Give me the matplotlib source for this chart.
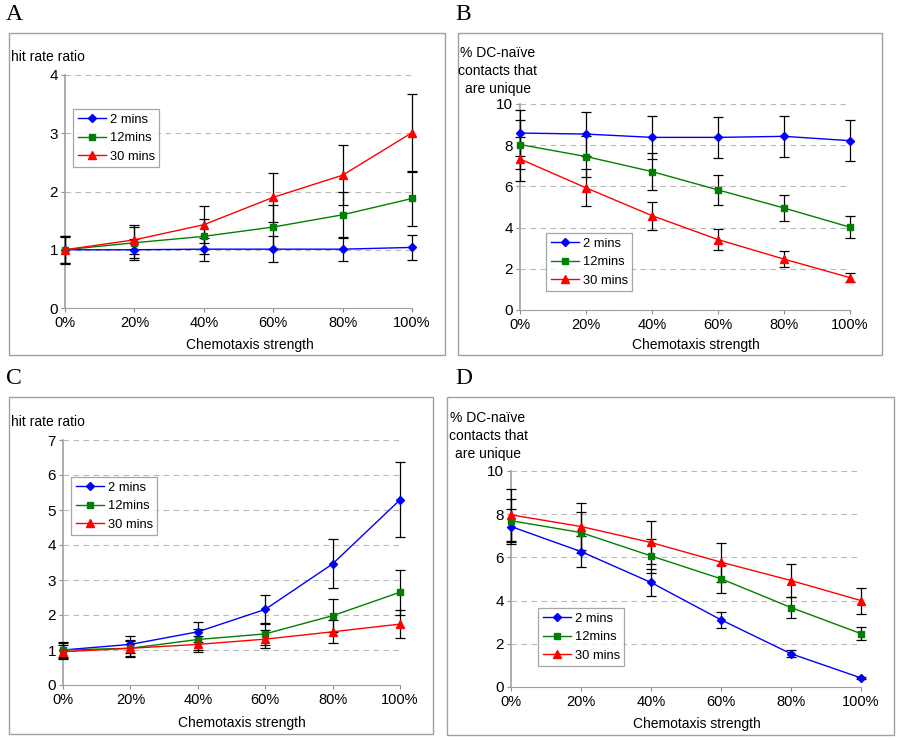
#!/usr/bin/env python3
# -*- coding: utf-8 -*-
import matplotlib
matplotlib.use("Agg")
import matplotlib.pyplot as plt
from matplotlib.lines import Line2D
from matplotlib.patches import Rectangle

plt.rcParams["font.family"] = ["Liberation Sans", "DejaVu Sans"]

W, H = 900, 740

strength = [0, 20, 40, 60, 80, 100]
series_names = ["2 mins", "12mins", "30 mins"]

# A: hit rate ratio
a_2 = [1.00, 1.00, 1.01, 1.01, 1.01, 1.04]
a_2_err = [0.22, 0.18, 0.20, 0.22, 0.21, 0.22]
a_12 = [1.00, 1.12, 1.23, 1.39, 1.60, 1.88]
a_12_err = [0.23, 0.27, 0.30, 0.37, 0.40, 0.47]
a_30 = [1.00, 1.17, 1.43, 1.90, 2.28, 3.01]
a_30_err = [0.24, 0.25, 0.32, 0.42, 0.51, 0.67]

# B: % DC-naive contacts that are unique
b_2 = [8.59, 8.54, 8.38, 8.38, 8.43, 8.22]
b_2_err = [1.10, 1.06, 1.05, 1.00, 1.00, 0.98]
b_12 = [8.03, 7.45, 6.72, 5.83, 4.95, 4.02]
b_12_err = [1.20, 1.00, 0.90, 0.72, 0.65, 0.53]
b_30 = [7.33, 5.93, 4.58, 3.42, 2.47, 1.57]
b_30_err = [1.06, 0.90, 0.68, 0.50, 0.38, 0.22]

# C: hit rate ratio
c_2 = [1.00, 1.16, 1.52, 2.16, 3.46, 5.29]
c_2_err = [0.22, 0.24, 0.29, 0.42, 0.70, 1.07]
c_12 = [1.00, 1.05, 1.30, 1.46, 1.98, 2.65]
c_12_err = [0.20, 0.25, 0.30, 0.32, 0.47, 0.65]
c_30 = [0.95, 1.05, 1.16, 1.31, 1.52, 1.74]
c_30_err = [0.20, 0.22, 0.23, 0.25, 0.33, 0.39]

# D: % DC-naive contacts that are unique
d_2 = [7.43, 6.27, 4.84, 3.11, 1.54, 0.42]
d_2_err = [0.80, 0.72, 0.62, 0.38, 0.15, 0.05]
d_12 = [7.70, 7.15, 6.07, 5.01, 3.68, 2.47]
d_12_err = [1.00, 0.95, 0.80, 0.65, 0.50, 0.30]
d_30 = [7.97, 7.43, 6.69, 5.78, 4.93, 4.00]
d_30_err = [1.20, 1.10, 1.00, 0.90, 0.76, 0.60]

colors = ["#0000ff", "#008000", "#ff0000"]
markers = ["D", "s", "^"]
msizes = [4, 4.5, 5.5]


def px_box(x0, y0, x1, y1):
  """像素坐标 -> figure 坐标 [left, bottom, width, height]."""
  return [x0 / W, 1 - y1 / H, (x1 - x0) / W, (y1 - y0) / H]


def draw_panel(fig, frame, ax_px, letter, letter_xy, data, ymax, ystep,
               ylabel, ylabel_xy, ylabel_ha, legend_xy, xlabel_xy):
  # 外框
  x0, y0, x1, y1 = frame
  fig.patches.append(Rectangle((x0 / W, 1 - y1 / H), (x1 - x0) / W,
                               (y1 - y0) / H, transform=fig.transFigure,
                               fill=False, edgecolor="#a0a0a0", lw=1.0))
  fig.text(letter_xy[0] / W, 1 - letter_xy[1] / H, letter,
           family="Liberation Serif", fontsize=17, va="center", ha="left")

  ax = fig.add_axes(px_box(*ax_px))
  handles = []
  for (vals, errs), name, c, m, ms in zip(data, series_names, colors,
                                           markers, msizes):
    eb = ax.errorbar(strength, vals, yerr=errs, color=c, marker=m, ms=ms,
                     lw=1.0, ecolor="black", elinewidth=0.9, capsize=3.5,
                     capthick=0.9, zorder=3)
    for art in [eb.lines[0], *eb.lines[1], *eb.lines[2]]:
      art.set_clip_on(False)
    handles.append(Line2D([], [], color=c, marker=m, ms=ms, lw=1.0,
                          label=name))

  ax.set_xlim(0, 100)
  ax.set_ylim(0, ymax)
  ax.set_xticks(strength)
  ax.set_xticklabels([f"{s}%" for s in strength], fontsize=10.5)
  ax.set_yticks(range(0, ymax + 1, ystep))
  ax.tick_params(axis="y", labelsize=11, length=3, color="#909090", pad=2)
  ax.tick_params(axis="x", length=3, color="#909090", pad=3)
  ax.grid(axis="y", ls=(0, (5, 4)), color="#b8b8b8", lw=0.8)
  ax.set_axisbelow(True)
  for side in ["top", "right"]:
    ax.spines[side].set_visible(False)
  for side in ["left", "bottom"]:
    ax.spines[side].set_color("#a0a0a0")
  ax.spines["left"].set_linewidth(1.2)

  leg = ax.legend(handles=handles, loc="upper left", fontsize=9.3,
                  frameon=True, fancybox=False, handlelength=2.2,
                  handletextpad=0.3, borderpad=0.35, labelspacing=0.5,
                  borderaxespad=0,
                  bbox_to_anchor=(legend_xy[0] / W, 1 - legend_xy[1] / H),
                  bbox_transform=fig.transFigure)
  leg.get_frame().set_edgecolor("#909090")
  leg.get_frame().set_linewidth(0.9)

  fig.text(ylabel_xy[0] / W, 1 - ylabel_xy[1] / H, ylabel, fontsize=10,
           ha=ylabel_ha, va="center", linespacing=1.35,
           multialignment="center")
  fig.text(xlabel_xy[0] / W, 1 - xlabel_xy[1] / H, "Chemotaxis strength",
           fontsize=10, ha="center", va="center")
  return ax


def main():
  fig = plt.figure(figsize=(W / 100, H / 100), dpi=100)

  naive = "% DC-naïve\ncontacts that\nare unique"
  draw_panel(fig, (9, 33, 445, 355), (65, 75, 412, 308), "A", (6, 15),
             [(a_2, a_2_err), (a_12, a_12_err), (a_30, a_30_err)], 4, 1,
             "hit rate ratio", (11, 57), "left", (73, 109), (250, 345))
  draw_panel(fig, (458, 33, 882, 355), (520, 104, 850, 310), "B", (455, 15),
             [(b_2, b_2_err), (b_12, b_12_err), (b_30, b_30_err)], 10, 2,
             naive, (498, 71), "center", (546, 233), (696, 345))
  draw_panel(fig, (9, 397, 433, 734), (63, 440, 400, 685), "C", (6, 378),
             [(c_2, c_2_err), (c_12, c_12_err), (c_30, c_30_err)], 7, 1,
             "hit rate ratio", (11, 422), "left", (71, 477), (242, 723))
  draw_panel(fig, (447, 397, 894, 735), (511, 471, 861, 687), "D", (455, 378),
             [(d_2, d_2_err), (d_12, d_12_err), (d_30, d_30_err)], 10, 2,
             naive, (488, 436), "center", (538, 608), (697, 724))

  fig.savefig("out.png", dpi=100)


if __name__ == '__main__':
  main()
